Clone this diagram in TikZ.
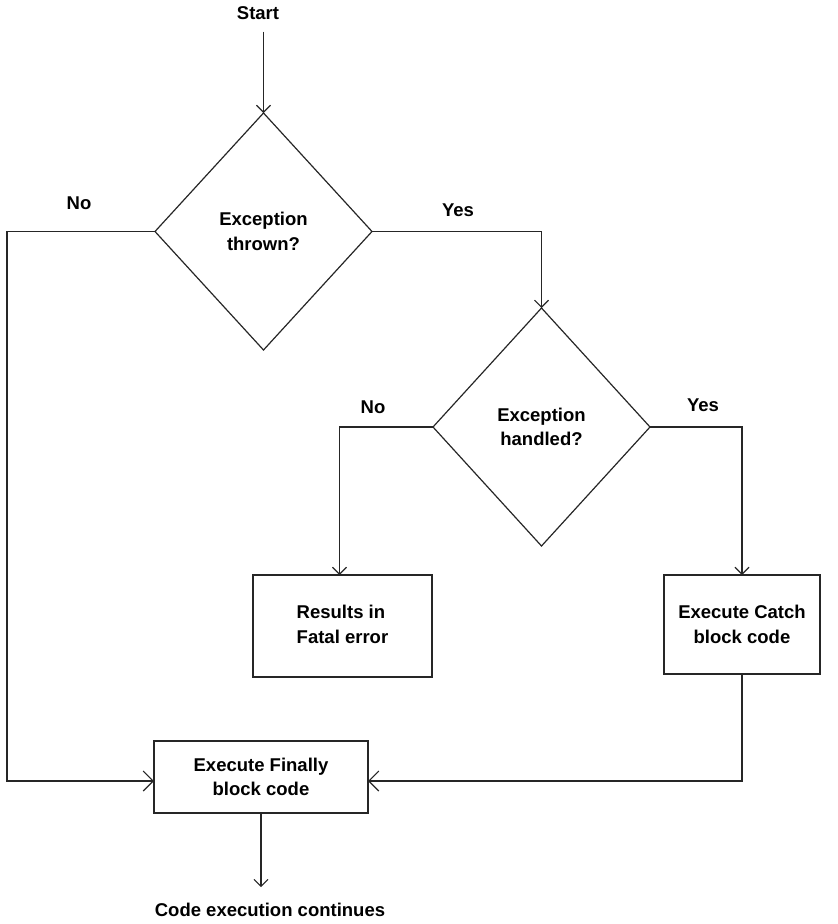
\documentclass[tikz,border=0pt]{standalone}
\usepackage{fontspec}
\setmainfont{Liberation Sans}
\usetikzlibrary{shapes.geometric,arrows.meta}
\begin{document}
\begin{tikzpicture}[x=1pt,y=-1pt,
  every node/.style={font=\fontsize{18.5}{24.5}\selectfont\bfseries, inner sep=0pt, outer sep=0pt},
  line/.style={draw=black!85, line width=1.2pt},
  decision/.style={diamond, draw=black!85, line width=1.2pt, align=center},
  process/.style={rectangle, draw=black!85, line width=1.2pt, align=center},
  arrV/.style={line, -{Straight Barb[length=7pt,width=14pt,line width=1.1pt]}},
  arrH/.style={line, -{Straight Barb[length=10pt,width=20pt,line width=1.1pt]}}
]
\useasboundingbox (0,0) rectangle (838,924);

% decisions
\node[decision, minimum width=217pt, minimum height=237pt] (d1) at (263.5,231.5) {Exception\\thrown?};
\node[decision, minimum width=217pt, minimum height=238pt] (d2) at (541.5,427) {Exception\\handled?};

% process boxes
\node[process, minimum width=179pt, minimum height=102pt] (fatal) at (342.5,626) {\begin{tabular}{@{}l@{}}Results in\\Fatal error\end{tabular}};
\node[process, minimum width=156pt, minimum height=99pt] (catch) at (742,624.5) {Execute Catch\\block code};
\node[process, minimum width=214pt, minimum height=72pt] (fin) at (261,777) {Execute Finally\\block code};

% terminal texts
\node (start) at (258,13) {Start};
\node (endtxt) at (270,910) {Code execution continues};

% branch labels
\node (no1) at (79,203) {No};
\node (yes1) at (458,210) {Yes};
\node (no2) at (373,407) {No};
\node (yes2) at (703,405) {Yes};

% turning point of the outer "No" branch
\coordinate (lft) at (7,500);

% connectors
\draw[arrV] (d1.north |- start.south) ++(0,12) -- (d1.north);
\draw[arrV] (d1.east) -| (d2.north);
\draw[arrH] (d1.west) -| (lft) |- ([yshift=-4pt]fin.west);
\draw[arrV] (d2.west) -| ([xshift=-3pt]fatal.north);
\draw[arrV] (d2.east) -| (catch.north);
\draw[arrH] (catch.south) |- ([yshift=-4pt]fin.east);
\draw[arrV] (fin.south) -- ([yshift=16pt]fin.south |- endtxt.north);
\end{tikzpicture}
\end{document}
